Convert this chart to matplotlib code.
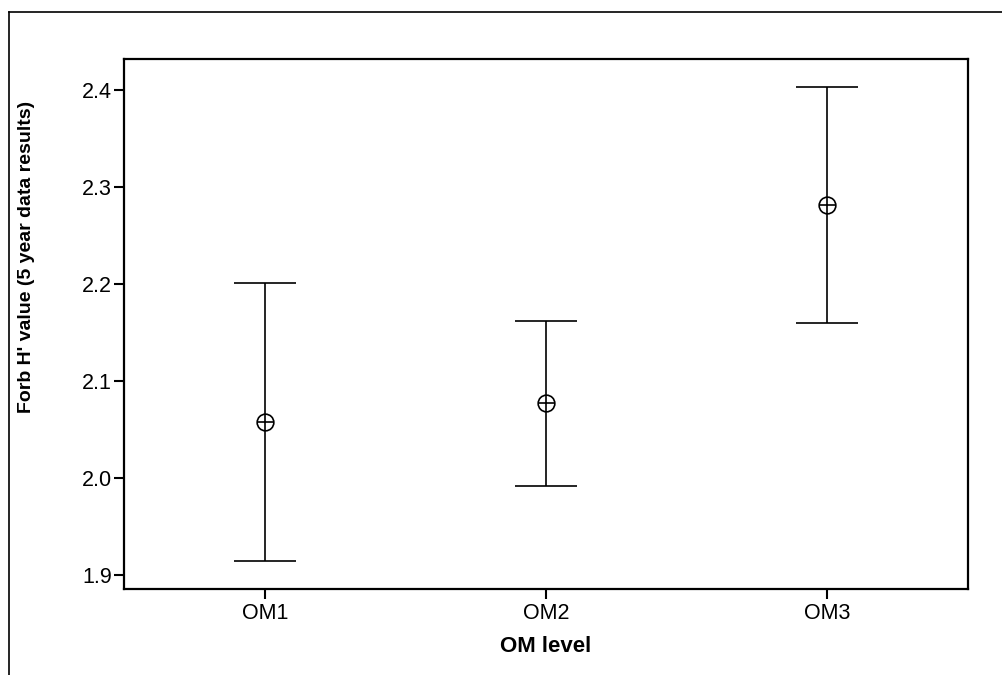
import matplotlib
matplotlib.use("Agg")
import matplotlib.pyplot as plt
from matplotlib.lines import Line2D

plt.rcParams['font.family'] = ['Liberation Sans', 'DejaVu Sans']

# Forb H' diversity by organic matter level: mean and interval bounds
levels = ["OM1", "OM2", "OM3"]
means = [2.0578, 2.0766, 2.2814]
lower = [1.9144, 1.9918, 2.1594]
upper = [2.2013, 2.1615, 2.4033]
yticks = [1.9, 2.0, 2.1, 2.2, 2.3, 2.4]

W, H = 1003, 675
fig = plt.figure(figsize=(W / 100, H / 100), dpi=100)
ax = fig.add_axes([124.3 / W, 1 - 588.7 / H, (967.7 - 124.3) / W, (588.7 - 59.3) / H])

x = list(range(1, len(levels) + 1))
yerr = [[m - lo for m, lo in zip(means, lower)], [hi - m for m, hi in zip(means, upper)]]
ax.errorbar(x, means, yerr=yerr, fmt='none', ecolor='black', elinewidth=1.2,
            capsize=22, capthick=1.2)
ax.plot(x, means, 'o', ms=12, mfc='white', mec='black', mew=1.2, zorder=3)
ax.plot(x, means, '+', ms=12, mec='black', mew=1.2, zorder=4)

ax.set_xlim(0.5, 3.5)
ax.set_ylim(1.8855, 2.4317)
ax.set_xticks(x)
ax.set_xticklabels(levels)
ax.set_yticks(yticks)
ax.set_yticklabels([f"{t:.1f}" for t in yticks])
ax.tick_params(axis='both', labelsize=15.5, length=7, width=1.5, color='black')
ax.tick_params(axis='y', pad=2)
ax.tick_params(axis='x', pad=3)

for s in ax.spines.values():
    s.set_linewidth(1.6)
    s.set_color('black')

fig.text(546 / W, 1 - 647 / H, "OM level", fontsize=16, fontweight='bold',
         ha='center', va='center')
fig.text(27 / W, 1 - 257 / H, "Forb H' value (5 year data results)", fontsize=14,
         fontweight='bold', rotation=90, ha='center', va='center')

# outer frame, open at the right and bottom edges
fig.add_artist(Line2D([9.5 / W, 1.0], [1 - 12 / H, 1 - 12 / H], transform=fig.transFigure,
                      color='black', lw=1.2))
fig.add_artist(Line2D([9.5 / W, 9.5 / W], [0.0, 1 - 12 / H], transform=fig.transFigure,
                      color='black', lw=1.2))

fig.savefig("out.png", dpi=100)
